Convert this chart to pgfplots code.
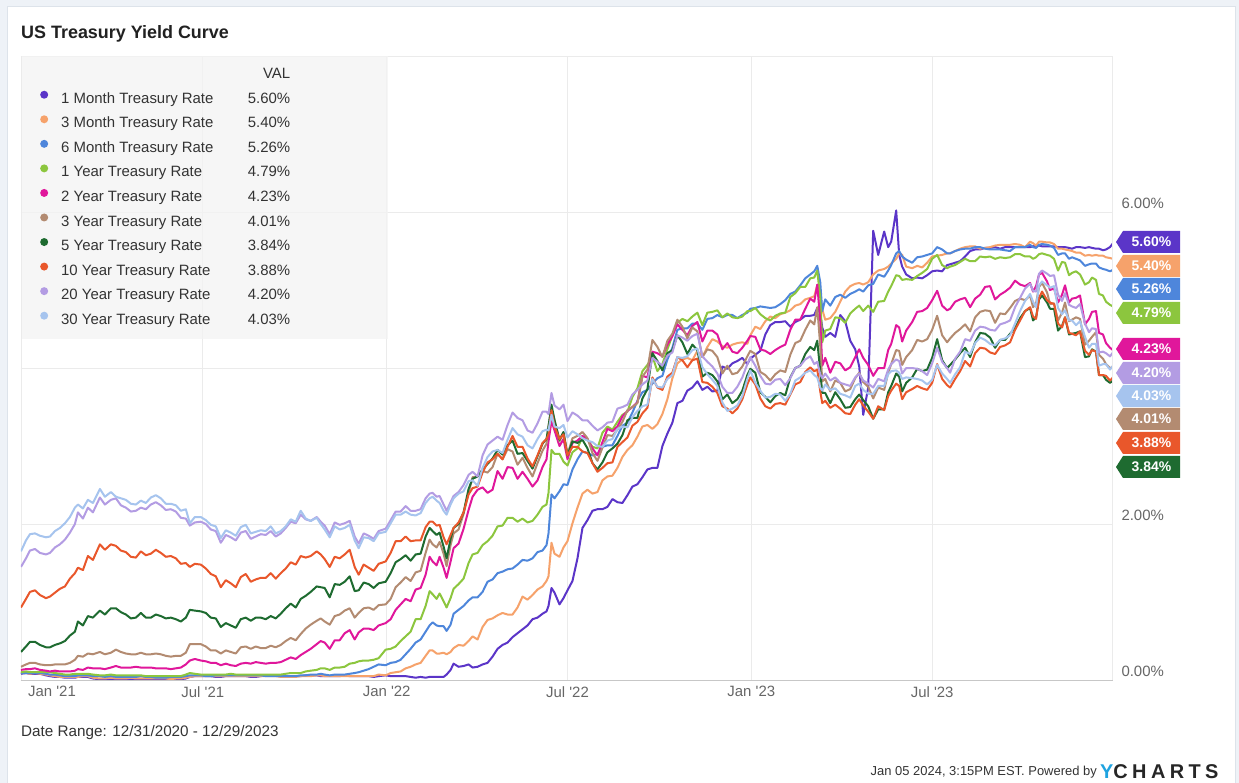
\documentclass[border=0pt]{standalone}
\usepackage{fontspec}
\setmainfont{Liberation Sans}
\usepackage{pgfplots}
\pgfplotsset{compat=1.18}
\usepackage{pgfplotstable}

\definecolor{pagebg}{HTML}{EEF2F7}
\definecolor{cardline}{HTML}{DDE3EA}
\definecolor{gridc}{HTML}{EBEBEB}
\definecolor{legbg}{HTML}{F4F4F4}
\definecolor{tickc}{HTML}{666666}
\definecolor{textc}{HTML}{333333}
\definecolor{ycyan}{HTML}{1FA3E0}
\definecolor{c1m}{HTML}{5B35C8}
\definecolor{c3m}{HTML}{F6A26B}
\definecolor{c6m}{HTML}{4E86DB}
\definecolor{c1y}{HTML}{8CC63E}
\definecolor{c2y}{HTML}{E0179B}
\definecolor{c3y}{HTML}{B38B71}
\definecolor{c5y}{HTML}{1E6B30}
\definecolor{c10y}{HTML}{E9572B}
\definecolor{c20y}{HTML}{B39CE3}
\definecolor{c30y}{HTML}{A6C4EE}

% days since 1 Jan 2021, yields in percent
\pgfplotstableread{
d m1 m3 m6 y1 y2 y3 y5 y10 y20 y30
-1 0.08 0.09 0.09 0.10 0.13 0.17 0.36 0.93 1.45 1.65
4 0.09 0.09 0.09 0.11 0.14 0.20 0.43 1.04 1.56 1.79
8 0.08 0.08 0.09 0.10 0.14 0.22 0.49 1.13 1.66 1.87
13 0.08 0.09 0.09 0.10 0.15 0.22 0.49 1.15 1.68 1.88
18 0.08 0.08 0.09 0.10 0.13 0.20 0.45 1.09 1.63 1.85
24 0.06 0.07 0.08 0.10 0.12 0.19 0.42 1.05 1.61 1.83
28 0.05 0.06 0.07 0.10 0.11 0.19 0.42 1.07 1.63 1.84
33 0.04 0.05 0.07 0.09 0.12 0.20 0.45 1.12 1.70 1.91
38 0.04 0.04 0.06 0.08 0.11 0.20 0.47 1.17 1.74 1.95
43 0.03 0.04 0.05 0.07 0.11 0.20 0.50 1.20 1.80 2.01
48 0.03 0.04 0.05 0.07 0.11 0.22 0.57 1.30 1.89 2.09
53 0.03 0.04 0.05 0.08 0.12 0.26 0.62 1.37 2.00 2.21
56 0.04 0.04 0.06 0.08 0.14 0.31 0.75 1.44 2.15 2.25
61 0.04 0.05 0.06 0.08 0.13 0.30 0.70 1.41 2.07 2.20
66 0.04 0.05 0.06 0.08 0.16 0.34 0.82 1.59 2.21 2.31
71 0.02 0.03 0.05 0.07 0.15 0.33 0.80 1.54 2.15 2.27
78 0.01 0.02 0.05 0.06 0.15 0.36 0.89 1.74 2.34 2.45
83 0.01 0.02 0.04 0.06 0.14 0.33 0.84 1.67 2.25 2.35
89 0.01 0.03 0.05 0.07 0.16 0.35 0.92 1.74 2.31 2.41
94 0.01 0.02 0.04 0.06 0.18 0.39 0.92 1.72 2.33 2.35
99 0.01 0.02 0.04 0.06 0.16 0.36 0.87 1.66 2.24 2.33
104 0.01 0.02 0.04 0.06 0.16 0.34 0.84 1.64 2.21 2.31
109 0.01 0.03 0.04 0.06 0.16 0.33 0.79 1.58 2.16 2.26
114 0.01 0.02 0.04 0.06 0.17 0.33 0.80 1.57 2.17 2.25
119 0.01 0.02 0.05 0.06 0.16 0.35 0.86 1.65 2.21 2.30
124 0.01 0.02 0.04 0.05 0.16 0.33 0.80 1.60 2.19 2.27
129 0.01 0.02 0.04 0.05 0.16 0.33 0.80 1.62 2.25 2.34
134 0.01 0.02 0.03 0.05 0.15 0.34 0.84 1.67 2.28 2.37
139 0.01 0.02 0.03 0.05 0.15 0.33 0.82 1.63 2.24 2.33
144 0.00 0.02 0.03 0.05 0.15 0.31 0.79 1.58 2.18 2.26
149 0.00 0.01 0.04 0.05 0.14 0.30 0.80 1.59 2.19 2.26
154 0.01 0.02 0.04 0.05 0.15 0.31 0.78 1.56 2.16 2.24
159 0.01 0.02 0.04 0.05 0.16 0.31 0.75 1.49 2.08 2.17
164 0.02 0.03 0.05 0.07 0.20 0.35 0.80 1.50 2.07 2.19
168 0.04 0.04 0.06 0.09 0.25 0.46 0.90 1.45 1.98 2.01
173 0.05 0.05 0.06 0.08 0.27 0.46 0.89 1.49 2.02 2.09
179 0.05 0.05 0.06 0.07 0.25 0.46 0.88 1.48 2.03 2.09
184 0.05 0.05 0.05 0.07 0.24 0.43 0.86 1.43 2.00 2.05
189 0.05 0.05 0.05 0.07 0.22 0.38 0.80 1.36 1.93 1.99
194 0.04 0.05 0.06 0.07 0.22 0.38 0.79 1.33 1.91 1.97
199 0.04 0.05 0.06 0.07 0.19 0.34 0.68 1.19 1.76 1.82
204 0.05 0.05 0.06 0.07 0.21 0.38 0.73 1.28 1.86 1.92
209 0.05 0.05 0.06 0.08 0.19 0.36 0.70 1.24 1.83 1.89
214 0.05 0.05 0.06 0.07 0.18 0.34 0.67 1.19 1.79 1.85
219 0.05 0.05 0.06 0.07 0.21 0.42 0.78 1.32 1.89 1.96
224 0.05 0.05 0.06 0.07 0.22 0.43 0.80 1.36 1.91 1.99
229 0.04 0.05 0.06 0.07 0.21 0.40 0.76 1.26 1.81 1.88
234 0.04 0.05 0.06 0.07 0.23 0.43 0.80 1.29 1.84 1.90
239 0.05 0.05 0.06 0.07 0.22 0.41 0.80 1.31 1.87 1.92
244 0.06 0.05 0.05 0.07 0.21 0.41 0.78 1.31 1.86 1.91
249 0.06 0.05 0.05 0.07 0.22 0.44 0.82 1.37 1.91 1.97
254 0.06 0.05 0.05 0.07 0.22 0.42 0.79 1.30 1.84 1.88
259 0.06 0.04 0.05 0.07 0.23 0.45 0.85 1.37 1.88 1.91
264 0.05 0.04 0.05 0.08 0.26 0.50 0.92 1.43 1.95 1.97
269 0.05 0.04 0.05 0.09 0.29 0.54 0.98 1.51 2.03 2.06
274 0.05 0.04 0.05 0.09 0.27 0.51 0.93 1.48 2.01 2.03
279 0.05 0.05 0.06 0.09 0.32 0.59 1.04 1.59 2.12 2.17
284 0.06 0.05 0.06 0.11 0.36 0.66 1.08 1.57 2.06 2.07
289 0.06 0.05 0.07 0.12 0.40 0.71 1.13 1.59 2.04 2.04
295 0.06 0.06 0.07 0.13 0.46 0.76 1.20 1.65 2.09 2.08
299 0.05 0.06 0.08 0.15 0.50 0.79 1.19 1.61 2.03 2.00
303 0.05 0.05 0.07 0.15 0.48 0.75 1.18 1.55 1.98 1.93
308 0.05 0.05 0.06 0.13 0.40 0.71 1.06 1.45 1.87 1.83
313 0.05 0.05 0.07 0.16 0.51 0.82 1.23 1.58 2.02 1.97
318 0.05 0.05 0.07 0.16 0.51 0.84 1.22 1.56 1.99 1.93
323 0.06 0.05 0.07 0.17 0.60 0.89 1.26 1.61 2.01 1.95
328 0.05 0.05 0.08 0.21 0.64 0.92 1.33 1.67 2.04 1.99
333 0.05 0.05 0.09 0.22 0.52 0.80 1.14 1.45 1.84 1.79
337 0.05 0.05 0.10 0.24 0.61 0.86 1.15 1.35 1.75 1.69
342 0.05 0.05 0.12 0.25 0.66 0.92 1.25 1.48 1.88 1.83
347 0.05 0.05 0.14 0.25 0.66 0.93 1.23 1.44 1.85 1.82
352 0.04 0.05 0.17 0.26 0.64 0.90 1.18 1.40 1.81 1.78
357 0.05 0.07 0.20 0.28 0.70 0.96 1.24 1.49 1.91 1.88
364 0.06 0.06 0.19 0.39 0.73 0.97 1.26 1.52 1.94 1.90
369 0.05 0.09 0.22 0.40 0.78 1.04 1.37 1.63 2.05 2.01
374 0.05 0.10 0.23 0.43 0.90 1.19 1.51 1.78 2.16 2.12
379 0.05 0.11 0.26 0.50 0.97 1.25 1.55 1.78 2.16 2.12
384 0.05 0.15 0.33 0.56 1.04 1.32 1.60 1.84 2.23 2.16
389 0.04 0.17 0.40 0.62 1.01 1.27 1.53 1.78 2.17 2.12
394 0.03 0.20 0.48 0.78 1.16 1.38 1.61 1.79 2.17 2.11
399 0.04 0.22 0.52 0.78 1.18 1.40 1.62 1.79 2.19 2.14
404 0.03 0.31 0.62 0.95 1.35 1.63 1.84 1.96 2.33 2.27
408 0.04 0.38 0.70 1.14 1.58 1.80 1.95 2.03 2.39 2.33
411 0.04 0.38 0.74 1.10 1.52 1.74 1.91 2.03 2.40 2.35
415 0.04 0.34 0.70 1.04 1.47 1.70 1.86 1.98 2.35 2.30
418 0.04 0.34 0.69 1.11 1.58 1.77 1.89 1.99 2.36 2.27
422 0.04 0.35 0.69 1.01 1.44 1.62 1.71 1.83 2.25 2.17
425 0.07 0.33 0.63 0.93 1.31 1.46 1.56 1.74 2.17 2.12
429 0.13 0.36 0.71 1.05 1.52 1.73 1.81 1.86 2.28 2.25
432 0.21 0.41 0.85 1.17 1.69 1.88 1.95 1.95 2.36 2.33
437 0.17 0.45 0.90 1.23 1.75 1.93 2.00 2.02 2.41 2.39
442 0.18 0.44 0.95 1.30 1.94 2.13 2.15 2.15 2.50 2.42
447 0.20 0.50 1.02 1.50 2.18 2.40 2.45 2.38 2.63 2.55
451 0.16 0.56 1.06 1.61 2.35 2.60 2.58 2.46 2.67 2.56
456 0.17 0.52 1.06 1.63 2.44 2.61 2.61 2.48 2.61 2.49
461 0.20 0.68 1.13 1.73 2.47 2.68 2.70 2.66 2.88 2.72
466 0.22 0.77 1.26 1.78 2.40 2.66 2.77 2.79 3.02 2.86
471 0.30 0.79 1.29 1.85 2.44 2.73 2.84 2.83 3.07 2.93
476 0.40 0.83 1.37 1.97 2.68 2.90 2.95 2.90 3.12 2.95
481 0.45 0.86 1.39 1.98 2.58 2.83 2.89 2.83 3.08 2.91
486 0.48 0.84 1.42 2.08 2.73 2.96 3.01 2.99 3.27 3.08
491 0.55 0.84 1.43 2.08 2.72 2.93 3.07 3.13 3.43 3.23
496 0.60 0.93 1.48 2.03 2.58 2.76 2.90 2.99 3.36 3.15
501 0.65 1.07 1.54 2.07 2.67 2.85 2.91 2.99 3.33 3.12
506 0.70 1.03 1.53 2.02 2.58 2.72 2.81 2.84 3.20 3.01
511 0.78 1.09 1.56 2.04 2.48 2.61 2.71 2.74 3.17 2.97
516 0.80 1.16 1.64 2.12 2.56 2.78 2.87 2.88 3.29 3.09
521 0.85 1.20 1.66 2.22 2.73 2.94 3.03 3.04 3.44 3.19
525 0.88 1.27 1.73 2.25 2.83 3.03 3.09 3.09 3.44 3.21
527 0.95 1.33 1.88 2.40 3.06 3.25 3.25 3.15 3.41 3.20
530 1.18 1.76 2.38 2.95 3.32 3.48 3.53 3.46 3.68 3.40
533 1.12 1.62 2.33 2.90 3.20 3.34 3.33 3.25 3.52 3.25
538 0.97 1.58 2.42 2.90 3.00 3.06 3.08 3.09 3.47 3.23
542 1.05 1.70 2.51 2.80 3.09 3.17 3.18 3.15 3.53 3.27
546 1.15 1.78 2.50 2.75 2.83 2.89 2.88 2.88 3.32 3.11
551 1.27 2.01 2.70 2.92 3.04 3.10 3.06 2.99 3.43 3.19
556 1.56 2.21 2.83 2.97 3.07 3.13 3.04 2.99 3.39 3.15
561 1.95 2.39 2.93 3.12 3.13 3.18 3.08 2.93 3.33 3.10
566 2.05 2.44 2.91 3.08 3.09 3.10 2.97 2.91 3.33 3.07
571 2.17 2.39 2.88 2.99 2.97 2.91 2.78 2.78 3.26 3.05
576 2.19 2.41 2.90 2.97 2.88 2.81 2.70 2.67 3.20 3.00
581 2.19 2.56 2.99 3.17 3.05 2.98 2.79 2.72 3.24 2.99
586 2.22 2.61 3.01 3.25 3.22 3.14 2.92 2.78 3.30 3.07
591 2.32 2.62 3.01 3.21 3.19 3.13 2.97 2.79 3.31 3.09
596 2.28 2.72 3.13 3.31 3.25 3.21 3.03 2.99 3.48 3.22
601 2.27 2.86 3.26 3.40 3.38 3.31 3.14 3.05 3.50 3.25
606 2.37 2.95 3.30 3.44 3.45 3.46 3.33 3.11 3.53 3.24
611 2.48 3.01 3.43 3.63 3.50 3.50 3.36 3.26 3.66 3.37
616 2.51 3.12 3.58 3.74 3.56 3.55 3.36 3.31 3.72 3.45
621 2.60 3.25 3.69 3.96 3.90 3.89 3.61 3.42 3.79 3.51
626 2.70 3.27 3.72 4.04 3.88 3.98 3.73 3.49 3.84 3.53
631 2.72 3.22 3.80 4.15 4.21 4.36 4.19 3.88 4.13 3.86
636 2.72 3.28 3.87 3.96 4.19 4.27 4.09 3.75 4.08 3.76
641 3.00 3.41 3.90 4.05 4.15 4.14 3.97 3.72 4.03 3.75
646 3.16 3.60 4.11 4.24 4.30 4.35 4.19 3.89 4.16 3.86
651 3.30 3.87 4.26 4.42 4.41 4.44 4.23 3.94 4.20 3.91
656 3.55 4.06 4.49 4.58 4.56 4.62 4.42 4.14 4.42 4.14
661 3.58 4.11 4.51 4.63 4.49 4.53 4.33 4.10 4.39 4.13
666 3.71 4.13 4.51 4.60 4.42 4.38 4.18 4.01 4.35 4.15
671 3.75 4.10 4.57 4.66 4.54 4.52 4.30 4.10 4.41 4.23
676 3.83 4.22 4.57 4.71 4.59 4.47 4.23 4.12 4.44 4.25
681 3.72 4.14 4.49 4.55 4.34 4.14 3.89 3.82 4.15 4.01
686 3.76 4.27 4.63 4.71 4.48 4.24 3.94 3.81 4.08 3.92
691 3.70 4.37 4.64 4.72 4.48 4.22 3.91 3.76 4.02 3.85
696 3.71 4.34 4.68 4.74 4.43 4.14 3.83 3.68 3.93 3.77
701 4.02 4.28 4.65 4.65 4.24 3.93 3.60 3.51 3.76 3.56
706 3.99 4.26 4.68 4.70 4.32 4.03 3.66 3.48 3.68 3.45
711 4.06 4.30 4.68 4.65 4.21 3.92 3.55 3.42 3.68 3.48
716 4.09 4.32 4.64 4.64 4.19 3.94 3.60 3.48 3.76 3.52
721 4.13 4.33 4.68 4.66 4.26 4.02 3.71 3.60 3.88 3.64
726 4.05 4.31 4.71 4.73 4.35 4.15 3.91 3.79 4.05 3.86
729 4.12 4.42 4.76 4.73 4.41 4.22 3.99 3.88 4.14 3.97
734 4.17 4.53 4.77 4.77 4.40 4.18 3.94 3.79 4.03 3.81
739 4.22 4.50 4.79 4.69 4.24 3.95 3.69 3.61 3.90 3.71
744 4.43 4.60 4.78 4.64 4.22 3.91 3.63 3.51 3.80 3.62
749 4.55 4.66 4.77 4.61 4.18 3.84 3.56 3.48 3.79 3.63
754 4.59 4.64 4.78 4.67 4.23 3.92 3.64 3.54 3.85 3.67
759 4.59 4.69 4.82 4.70 4.27 3.97 3.68 3.55 3.86 3.66
764 4.60 4.71 4.87 4.71 4.30 3.95 3.65 3.53 3.78 3.58
769 4.53 4.74 4.95 4.91 4.49 4.17 3.88 3.66 3.87 3.67
774 4.59 4.80 4.98 4.96 4.62 4.32 4.00 3.79 4.00 3.84
779 4.62 4.82 5.06 5.04 4.62 4.35 4.03 3.82 4.03 3.88
784 4.67 4.88 5.15 5.04 4.76 4.49 4.18 3.95 4.11 3.94
789 4.67 4.90 5.20 5.15 4.89 4.61 4.27 4.01 4.15 3.97
793 4.68 4.92 5.24 5.16 4.85 4.56 4.23 3.96 4.05 3.91
796 4.77 5.06 5.31 5.25 5.07 4.78 4.35 3.98 4.08 3.88
799 4.70 4.94 5.10 4.90 4.60 4.28 3.96 3.70 3.92 3.75
801 4.52 4.75 4.73 4.33 4.03 3.83 3.68 3.55 3.87 3.71
804 4.40 4.62 4.88 4.48 4.13 3.86 3.68 3.58 3.93 3.79
809 4.45 4.64 4.80 4.50 3.94 3.70 3.55 3.49 3.84 3.72
814 4.40 4.72 4.91 4.65 4.08 3.84 3.69 3.53 3.88 3.74
819 4.68 4.85 4.94 4.64 4.06 3.81 3.60 3.48 3.81 3.67
824 4.60 4.98 4.90 4.58 3.97 3.70 3.49 3.42 3.79 3.65
829 4.35 5.05 4.95 4.70 4.01 3.73 3.50 3.41 3.77 3.62
834 4.24 5.08 4.98 4.76 4.14 3.87 3.60 3.53 3.88 3.77
838 4.02 5.09 5.01 4.80 4.24 3.94 3.66 3.60 3.93 3.80
842 3.40 5.07 4.98 4.73 4.13 3.82 3.59 3.52 3.84 3.72
847 3.75 5.10 5.06 4.80 4.04 3.76 3.51 3.44 3.80 3.67
852 5.76 5.20 5.08 4.72 3.90 3.61 3.35 3.35 3.75 3.67
857 5.45 5.25 5.20 4.85 4.00 3.75 3.47 3.51 3.86 3.77
863 5.75 5.27 5.17 4.86 4.00 3.72 3.47 3.46 3.83 3.77
867 5.55 5.30 5.25 4.98 4.23 3.94 3.69 3.64 3.98 3.92
870 5.62 5.34 5.32 5.05 4.31 4.05 3.77 3.71 4.05 3.96
875 6.02 5.40 5.47 5.19 4.55 4.23 3.93 3.80 4.11 3.97
878 5.45 5.47 5.50 5.18 4.52 4.22 3.89 3.77 4.09 3.94
881 5.30 5.45 5.43 5.13 4.34 4.04 3.70 3.60 3.93 3.86
885 5.20 5.30 5.39 5.14 4.48 4.14 3.81 3.69 4.00 3.88
891 5.15 5.28 5.35 5.13 4.59 4.23 3.88 3.73 4.00 3.87
896 5.16 5.31 5.42 5.18 4.72 4.36 3.99 3.77 3.99 3.86
901 5.15 5.29 5.43 5.22 4.73 4.34 3.96 3.74 3.96 3.84
906 5.19 5.35 5.45 5.27 4.77 4.37 3.98 3.72 3.91 3.79
911 5.24 5.43 5.47 5.40 4.87 4.49 4.13 3.81 4.06 3.85
916 5.25 5.44 5.55 5.45 4.99 4.67 4.37 4.05 4.26 4.04
921 5.24 5.45 5.52 5.32 4.80 4.42 4.10 3.86 4.08 3.93
926 5.32 5.47 5.47 5.28 4.74 4.33 4.00 3.78 4.00 3.86
929 5.33 5.47 5.47 5.30 4.76 4.38 4.04 3.75 3.94 3.81
934 5.35 5.50 5.50 5.32 4.85 4.45 4.11 3.86 4.12 3.92
939 5.37 5.53 5.52 5.36 4.88 4.50 4.19 3.96 4.21 4.01
944 5.43 5.55 5.53 5.40 4.90 4.56 4.26 4.09 4.37 4.21
949 5.50 5.56 5.53 5.37 4.78 4.47 4.14 4.02 4.35 4.18
954 5.52 5.56 5.55 5.37 4.89 4.65 4.33 4.19 4.48 4.32
959 5.52 5.53 5.55 5.43 4.94 4.72 4.45 4.26 4.53 4.39
964 5.54 5.54 5.53 5.42 5.04 4.74 4.44 4.25 4.52 4.36
969 5.54 5.55 5.52 5.43 5.05 4.73 4.39 4.20 4.49 4.31
974 5.55 5.57 5.52 5.40 4.88 4.58 4.26 4.18 4.48 4.29
979 5.53 5.58 5.52 5.42 4.94 4.70 4.36 4.27 4.56 4.36
984 5.55 5.58 5.51 5.41 4.98 4.69 4.36 4.29 4.58 4.38
989 5.55 5.58 5.50 5.42 5.03 4.77 4.44 4.33 4.61 4.42
994 5.55 5.59 5.55 5.46 5.12 4.86 4.51 4.49 4.78 4.57
999 5.55 5.58 5.55 5.46 5.07 4.89 4.64 4.61 4.90 4.73
1004 5.55 5.55 5.55 5.43 5.05 4.87 4.73 4.73 5.02 4.86
1009 5.55 5.62 5.58 5.43 5.09 4.93 4.77 4.78 5.08 4.95
1012 5.56 5.60 5.55 5.40 4.98 4.78 4.61 4.66 4.99 4.85
1015 5.57 5.57 5.54 5.42 5.05 4.83 4.65 4.63 4.98 4.78
1018 5.57 5.62 5.58 5.46 5.20 5.04 4.88 4.90 5.21 5.06
1021 5.56 5.62 5.59 5.47 5.22 5.09 4.93 4.98 5.25 5.11
1026 5.56 5.61 5.58 5.45 5.11 4.97 4.84 4.87 5.21 5.06
1029 5.56 5.61 5.57 5.44 5.00 4.82 4.76 4.84 5.18 5.03
1033 5.56 5.59 5.54 5.40 5.02 4.83 4.76 4.82 5.19 5.05
1037 5.55 5.53 5.45 5.25 4.84 4.61 4.48 4.57 4.94 4.77
1041 5.55 5.53 5.47 5.36 4.94 4.71 4.54 4.52 4.86 4.69
1044 5.55 5.52 5.47 5.35 5.06 4.84 4.65 4.65 4.96 4.74
1048 5.54 5.51 5.40 5.19 4.84 4.60 4.43 4.45 4.81 4.61
1051 5.53 5.50 5.42 5.22 4.89 4.62 4.44 4.44 4.79 4.61
1055 5.55 5.48 5.40 5.24 4.90 4.65 4.45 4.42 4.77 4.55
1059 5.55 5.48 5.38 5.20 4.93 4.63 4.47 4.47 4.82 4.60
1064 5.54 5.44 5.31 5.07 4.56 4.30 4.14 4.22 4.57 4.40
1068 5.55 5.45 5.33 5.10 4.63 4.35 4.15 4.17 4.46 4.26
1071 5.54 5.44 5.34 5.16 4.72 4.40 4.24 4.23 4.51 4.31
1075 5.53 5.45 5.34 5.13 4.73 4.46 4.21 4.21 4.50 4.31
1078 5.53 5.44 5.29 4.95 4.45 4.17 3.91 3.91 4.20 4.03
1082 5.51 5.44 5.27 4.93 4.43 4.12 3.91 3.91 4.21 4.05
1085 5.52 5.42 5.26 4.85 4.32 4.05 3.85 3.90 4.19 4.05
1089 5.55 5.41 5.24 4.81 4.26 4.00 3.81 3.84 4.15 3.98
1092 5.60 5.40 5.26 4.79 4.23 4.01 3.84 3.88 4.20 4.03
}\yields

\newcommand{\lname}[2]{\makebox[309bp][l]{\makebox[229bp][l]{#1\hfill #2}}}
\newcommand{\ytag}[3]{%
  \fill[#2] (1116,{783-#1}) -- (1123,{783-#1+11}) -- (1180,{783-#1+11})
    -- (1180,{783-#1-11}) -- (1123,{783-#1-11}) -- cycle;
  \node[text=white,font=\bfseries\fontsize{14}{16}\selectfont] at (1151.5,{783-#1}) {#3};}

\begin{document}
\begin{tikzpicture}[x=1bp,y=1bp]
\path[use as bounding box] (0,0) rectangle (1239,783);
\fill[pagebg] (0,0) rectangle (1239,783);
\fill[white] (7,0) rectangle (1235,777);
\draw[cardline] (7,0) -- (7,777) -- (1235,777) -- (1235,0);

\node[anchor=west,inner sep=0pt,text=black!87,font=\bfseries\fontsize{18}{20}\selectfont] at (21,749) {US Treasury Yield Curve};

\begin{axis}[
  at={(22,132)}, anchor=origin, scale only axis,
  width=1092bp, height=624bp,
  xmin=-1, xmax=1092, ymin=0, ymax=8,
  axis line style={draw=none},
  major tick length=0pt,
  xtick={181,365,546,730,911},
  xticklabels={Jul \textquotesingle 21,Jan \textquotesingle 22,Jul \textquotesingle 22,Jan \textquotesingle 23,Jul \textquotesingle 23},
  extra x ticks={0},
  extra x tick labels={Jan \textquotesingle 21},
  extra x tick style={grid=major, xticklabel style={xshift=30bp}},
  ytick={0,2,4,6,8},
  yticklabels={0.00\%,2.00\%,,6.00\%,},
  yticklabel pos=right,
  yticklabel style={anchor=south west, xshift=5bp, yshift=0bp},
  xticklabel style={yshift=-3bp},
  tick label style={font=\fontsize{15}{17}\selectfont, text=tickc},
  grid=major, major grid style={draw=gridc, line width=1bp},
  every axis plot/.append style={line width=2bp, line join=round},
  legend cell align=left,
  legend image code/.code={\fill[#1,fill opacity=1,draw=none] (0bp,4.8bp) circle (4bp);},
  legend style={at={(0,1)}, anchor=north west, xshift=1bp,
    draw=none, fill=legbg, fill opacity=0.75, text opacity=1,
    inner xsep=18bp, inner ysep=11.5bp, row sep=8.5bp, column sep=13bp,
    font=\fontsize{15}{17}\selectfont, text=textc,
    nodes={inner sep=0pt, text height=11bp, text depth=3.5bp}},
]
\addlegendimage{empty legend}
\addlegendentry{\makebox[309bp][l]{\makebox[229bp][r]{VAL}}}
\addplot[c1m] table[x=d,y=m1] {\yields};
\addlegendentry{\lname{1 Month Treasury Rate}{5.60\%}}
\addplot[c3m] table[x=d,y=m3] {\yields};
\addlegendentry{\lname{3 Month Treasury Rate}{5.40\%}}
\addplot[c6m] table[x=d,y=m6] {\yields};
\addlegendentry{\lname{6 Month Treasury Rate}{5.26\%}}
\addplot[c1y] table[x=d,y=y1] {\yields};
\addlegendentry{\lname{1 Year Treasury Rate}{4.79\%}}
\addplot[c2y] table[x=d,y=y2] {\yields};
\addlegendentry{\lname{2 Year Treasury Rate}{4.23\%}}
\addplot[c3y] table[x=d,y=y3] {\yields};
\addlegendentry{\lname{3 Year Treasury Rate}{4.01\%}}
\addplot[c5y] table[x=d,y=y5] {\yields};
\addlegendentry{\lname{5 Year Treasury Rate}{3.84\%}}
\addplot[c10y] table[x=d,y=y10] {\yields};
\addlegendentry{\lname{10 Year Treasury Rate}{3.88\%}}
\addplot[c20y] table[x=d,y=y20] {\yields};
\addlegendentry{\lname{20 Year Treasury Rate}{4.20\%}}
\addplot[c30y] table[x=d,y=y30] {\yields};
\addlegendentry{\lname{30 Year Treasury Rate}{4.03\%}}
\draw[gridc, line width=1bp] (rel axis cs:1,0) -- (rel axis cs:1,1);
\draw[black!22, line width=1bp] (rel axis cs:0,0) -- (rel axis cs:1,0);
\end{axis}

\ytag{242}{c1m}{5.60\%}
\ytag{266}{c3m}{5.40\%}
\ytag{289}{c6m}{5.26\%}
\ytag{313}{c1y}{4.79\%}
\ytag{349}{c2y}{4.23\%}
\ytag{373}{c20y}{4.20\%}
\ytag{396}{c30y}{4.03\%}
\ytag{419}{c3y}{4.01\%}
\ytag{443}{c10y}{3.88\%}
\ytag{467}{c5y}{3.84\%}

\node[anchor=west,inner sep=0pt,text=textc,font=\fontsize{15.3}{17}\selectfont] at (21,50) {Date Range: 12/31/2020 - 12/29/2023};
\node[anchor=east,inner sep=0pt,text=textc,font=\fontsize{13}{15}\selectfont] at (1097,11) {Jan 05 2024, 3:15PM EST. Powered by};
\node[anchor=west,inner sep=0pt,font=\bfseries\fontsize{20}{22}\selectfont] at (1100,11)
  {\textcolor{ycyan}{Y}\textcolor{black!85}{\addfontfeature{LetterSpace=22}CHARTS}};
\end{tikzpicture}
\end{document}
